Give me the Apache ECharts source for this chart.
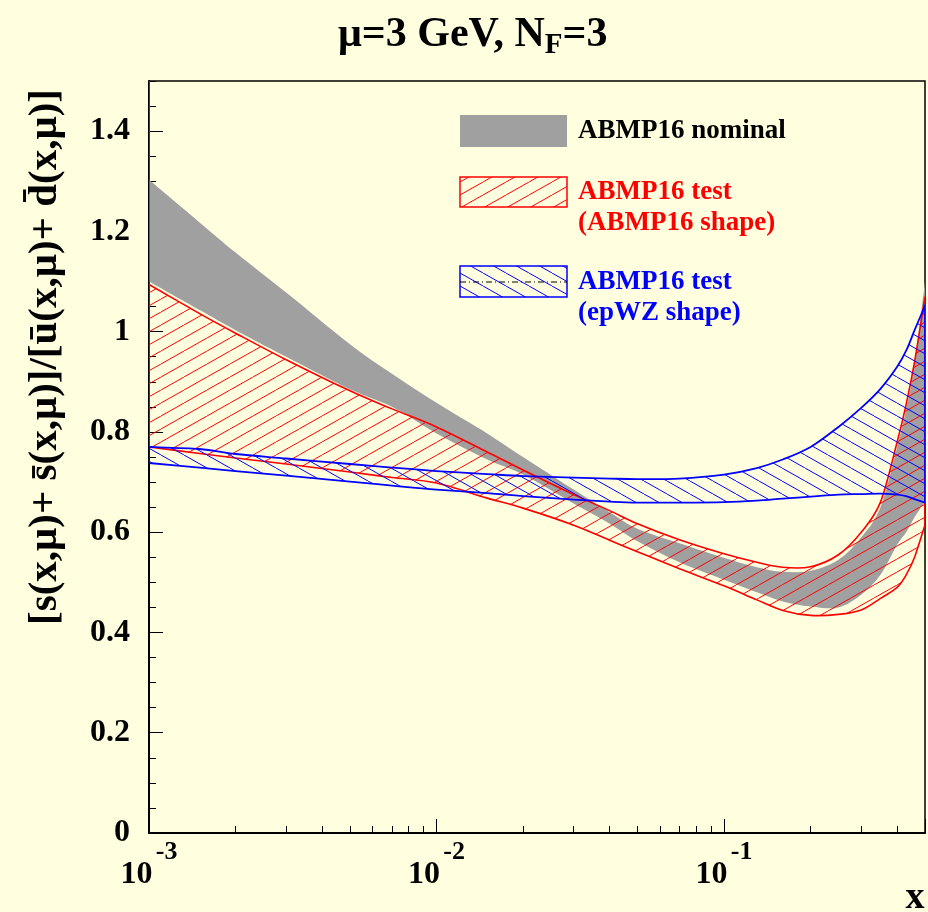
<!DOCTYPE html>
<html>
<head>
<meta charset="utf-8">
<script src="https://cdn.jsdelivr.net/npm/echarts@6/dist/echarts.min.js"></script>
<style>
html,body{margin:0;padding:0;background:#ffffe0;}
#chart{width:928px;height:912px;}
</style>
</head>
<body>
<div id="chart"></div>
<script>
// ---- data ----
const xs      = [0.001, 0.0015, 0.002, 0.003, 0.005, 0.007, 0.01, 0.015, 0.02, 0.03, 0.04, 0.05, 0.07, 0.1, 0.13, 0.16, 0.2, 0.25, 0.3, 0.35, 0.4, 0.43, 0.46, 0.5];
const grayHi  = [1.303, 1.218, 1.158, 1.078, 0.975, 0.916, 0.858, 0.797, 0.750, 0.685, 0.640, 0.607, 0.578, 0.549, 0.530, 0.521, 0.523, 0.545, 0.590, 0.650, 0.770, 0.845, 0.935, 1.100];
const grayLo  = [1.100, 1.043, 1.003, 0.950, 0.885, 0.850, 0.797, 0.745, 0.715, 0.657, 0.617, 0.582, 0.540, 0.505, 0.480, 0.462, 0.452, 0.450, 0.475, 0.515, 0.575, 0.600, 0.630, 0.660];
const redHi   = [1.094, 1.036, 0.997, 0.944, 0.882, 0.846, 0.810, 0.760, 0.724, 0.675, 0.643, 0.617, 0.585, 0.557, 0.540, 0.530, 0.531, 0.555, 0.600, 0.660, 0.780, 0.855, 0.940, 1.070];
const redLo   = [0.770, 0.757, 0.748, 0.736, 0.720, 0.709, 0.698, 0.668, 0.648, 0.614, 0.584, 0.561, 0.527, 0.493, 0.465, 0.444, 0.434, 0.436, 0.445, 0.468, 0.490, 0.515, 0.550, 0.615];
const redEdgeTop = 1.5;   // red band upper edge leaves the frame at x = 1e-3
const blueHi  = [0.770, 0.766, 0.756, 0.747, 0.736, 0.729, 0.722, 0.716, 0.712, 0.709, 0.707, 0.706, 0.707, 0.715, 0.728, 0.745, 0.770, 0.810, 0.848, 0.886, 0.930, 0.962, 1.003, 1.052];
const blueLo  = [0.738, 0.729, 0.722, 0.713, 0.701, 0.693, 0.685, 0.678, 0.672, 0.665, 0.661, 0.659, 0.659, 0.660, 0.663, 0.667, 0.671, 0.675, 0.676, 0.677, 0.675, 0.672, 0.666, 0.659];

const xMin = 0.001, xMax = 0.5, yMin = 0, yMax = 1.5;
const xMinorTicks = [0.002,0.003,0.004,0.005,0.006,0.007,0.008,0.009,
                     0.02,0.03,0.04,0.05,0.06,0.07,0.08,0.09,
                     0.2,0.3,0.4];
const legendLabels = ['ABMP16 nominal', 'ABMP16 test', '(ABMP16 shape)', 'ABMP16 test', '(epWZ shape)'];

const FONT = 'Liberation Serif';
const BG = '#ffffe0';
const GRAY = '#a0a0a0', RED = '#ff0000', BLUE = '#0000ff';

function hatch(color, up) {
  const W = 23, H = 13;
  const c = document.createElement('canvas');
  c.width = W; c.height = H;
  const g = c.getContext('2d');
  g.strokeStyle = color; g.lineWidth = 1;
  for (let k = -1; k <= 1; k++) {
    g.beginPath();
    if (up) { g.moveTo(k * W, H); g.lineTo(k * W + W, 0); }
    else    { g.moveTo(k * W, 0); g.lineTo(k * W + W, H); }
    g.stroke();
  }
  return c;
}
const redPat  = { image: hatch(RED, true),  repeat: 'repeat' };
const bluePat = { image: hatch(BLUE, false), repeat: 'repeat' };

// Catmull-Rom spline through pixel points (current point assumed at p[0])
function splineCmds(p) {
  let d = '';
  const n = p.length;
  for (let i = 0; i < n - 1; i++) {
    const p0 = p[Math.max(0, i - 1)], p1 = p[i], p2 = p[i + 1], p3 = p[Math.min(n - 1, i + 2)];
    const c1x = p1[0] + (p2[0] - p0[0]) / 6, c1y = p1[1] + (p2[1] - p0[1]) / 6;
    const c2x = p2[0] - (p3[0] - p1[0]) / 6, c2y = p2[1] - (p3[1] - p1[1]) / 6;
    d += ' C ' + c1x + ' ' + c1y + ' ' + c2x + ' ' + c2y + ' ' + p2[0] + ' ' + p2[1];
  }
  return d;
}

function band(name, lo, hi, fill, stroke, lw, z, prefix) {
  return {
    type: 'custom', name, coordinateSystem: 'cartesian2d',
    xAxisIndex: 0, yAxisIndex: 0, clip: true, silent: true, z,
    data: xs.map((x, i) => [x, lo[i], hi[i]]),
    encode: { x: 0, y: [1, 2] },
    renderItem: function (params, api) {
      if (params.dataIndex !== 0) return;
      const up = xs.map((x, i) => api.coord([x, hi[i]]));
      const dn = xs.map((x, i) => api.coord([x, lo[i]])).reverse();
      let d = '';
      if (prefix) {
        const p = api.coord(prefix);
        d = 'M ' + p[0] + ' ' + p[1] + ' L ' + up[0][0] + ' ' + up[0][1];
      } else {
        d = 'M ' + up[0][0] + ' ' + up[0][1];
      }
      d += splineCmds(up);
      d += ' L ' + dn[0][0] + ' ' + dn[0][1];
      d += splineCmds(dn);
      d += ' Z';
      return {
        type: 'path', shape: { pathData: d },
        style: { fill: fill, stroke: stroke || null, lineWidth: lw || 0 }
      };
    }
  };
}

const chart = echarts.init(document.getElementById('chart'), null, { renderer: 'canvas' });

const legendX = 460, legendW = 107;
const option = {
  backgroundColor: BG,
  animation: false,
  grid: { left: 149, right: 3, top: 81, bottom: 79, show: true, borderColor: '#000', borderWidth: 1.5, backgroundColor: BG },
  xAxis: [
    {
      type: 'log', logBase: 10, min: xMin, max: xMax, position: 'bottom',
      axisLine: { show: true, onZero: false, lineStyle: { color: '#000', width: 2 } },
      axisTick: { show: true, inside: true, length: 14, lineStyle: { color: '#000', width: 1 } },
      splitLine: { show: false }, minorTick: { show: false },
      axisLabel: {
        show: true, margin: 26, color: '#000',
        formatter: function (v) {
          const e = Math.round(Math.log10(v));
          if (Math.abs(Math.pow(10, e) - v) > 1e-9) return '';
          return '{b|10} {s|' + e + '}';
        },
        rich: {
          b: { fontFamily: FONT, fontWeight: 'bold', fontSize: 32, lineHeight: 32 },
          s: { fontFamily: FONT, fontWeight: 'bold', fontSize: 26, lineHeight: 26, padding: [0, 0, 46, 0] }
        }
      }
    },
    {
      type: 'log', logBase: 10, min: xMin, max: xMax, position: 'bottom',
      axisLine: { show: false },
      axisTick: { show: true, inside: true, length: 7, customValues: xMinorTicks, lineStyle: { color: '#000', width: 1 } },
      axisLabel: { show: false }, splitLine: { show: false }
    }
  ],
  yAxis: [
    {
      type: 'value', min: yMin, max: yMax, interval: 0.2, position: 'left',
      axisLine: { show: true, onZero: false, lineStyle: { color: '#000', width: 2 } },
      axisTick: { show: true, inside: true, length: 14, lineStyle: { color: '#000', width: 1 } },
      splitLine: { show: false },
      axisLabel: {
        show: true, margin: 19, color: '#000', fontFamily: FONT, fontWeight: 'bold', fontSize: 32,
        showMaxLabel: false,
        formatter: function (v) { return v > 1.45 ? '' : String(Math.round(v * 10) / 10); }
      }
    },
    {
      type: 'value', min: yMin, max: yMax, interval: 0.05, position: 'left',
      axisLine: { show: false },
      axisTick: { show: true, inside: true, length: 7, lineStyle: { color: '#000', width: 1 } },
      axisLabel: { show: false }, splitLine: { show: false }
    }
  ],
  series: [
    band('ABMP16 nominal', grayLo, grayHi, GRAY, null, 0, 2, null),
    band('ABMP16 test (ABMP16 shape)', redLo, redHi, redPat, RED, 1.6, 3, [xMin, redEdgeTop]),
    band('ABMP16 test (epWZ shape)', blueLo, blueHi, bluePat, BLUE, 1.8, 4, null)
  ],
  graphic: [
    { type: 'text', left: 338, top: 11, style: {
        text: '{a|μ=3 GeV, N}{f|F}{a|=3}',
        rich: {
          a: { fontFamily: FONT, fontWeight: 'bold', fontSize: 42, lineHeight: 42, fill: '#000' },
          f: { fontFamily: FONT, fontWeight: 'bold', fontSize: 29, lineHeight: 29, padding: [20, 0, 0, 0], fill: '#000' }
        } } },
    { type: 'text', x: 45, y: 357, rotation: Math.PI / 2, style: {
        text: '[s(x,μ)+ s\u0304(x,μ)]/[u\u0304(x,μ)+ d\u0304(x,μ)]',
        fontFamily: FONT, fontWeight: 'bold', fontSize: 41, fill: '#000',
        align: 'center', verticalAlign: 'middle' } },
    { type: 'text', x: 915, y: 898, style: {
        text: 'x', fontFamily: FONT, fontWeight: 'bold', fontSize: 38, fill: '#000',
        align: 'center', verticalAlign: 'middle' } },
    // legend
    { type: 'rect', shape: { x: legendX, y: 115, width: legendW, height: 32 }, style: { fill: GRAY } },
    { type: 'text', x: 578, y: 131, style: { text: legendLabels[0], fontFamily: FONT, fontWeight: 'bold', fontSize: 27, fill: '#000', verticalAlign: 'middle' } },
    { type: 'rect', shape: { x: legendX, y: 177, width: legendW, height: 30 }, style: { fill: redPat, stroke: RED, lineWidth: 1.5 } },
    { type: 'text', x: 578, y: 192, style: { text: legendLabels[1], fontFamily: FONT, fontWeight: 'bold', fontSize: 27, fill: RED, verticalAlign: 'middle' } },
    { type: 'text', x: 578, y: 223, style: { text: legendLabels[2], fontFamily: FONT, fontWeight: 'bold', fontSize: 27, fill: RED, verticalAlign: 'middle' } },
    { type: 'rect', shape: { x: legendX, y: 266, width: legendW, height: 31 }, style: { fill: bluePat, stroke: BLUE, lineWidth: 1.5 } },
    { type: 'line', shape: { x1: legendX, y1: 282, x2: legendX + legendW, y2: 282 }, style: { stroke: '#000', lineWidth: 1, lineDash: [6, 3, 1, 3] } },
    { type: 'text', x: 578, y: 282, style: { text: legendLabels[3], fontFamily: FONT, fontWeight: 'bold', fontSize: 27, fill: BLUE, verticalAlign: 'middle' } },
    { type: 'text', x: 578, y: 313, style: { text: legendLabels[4], fontFamily: FONT, fontWeight: 'bold', fontSize: 27, fill: BLUE, verticalAlign: 'middle' } }
  ]
};
chart.setOption(option);
</script>
</body>
</html>
